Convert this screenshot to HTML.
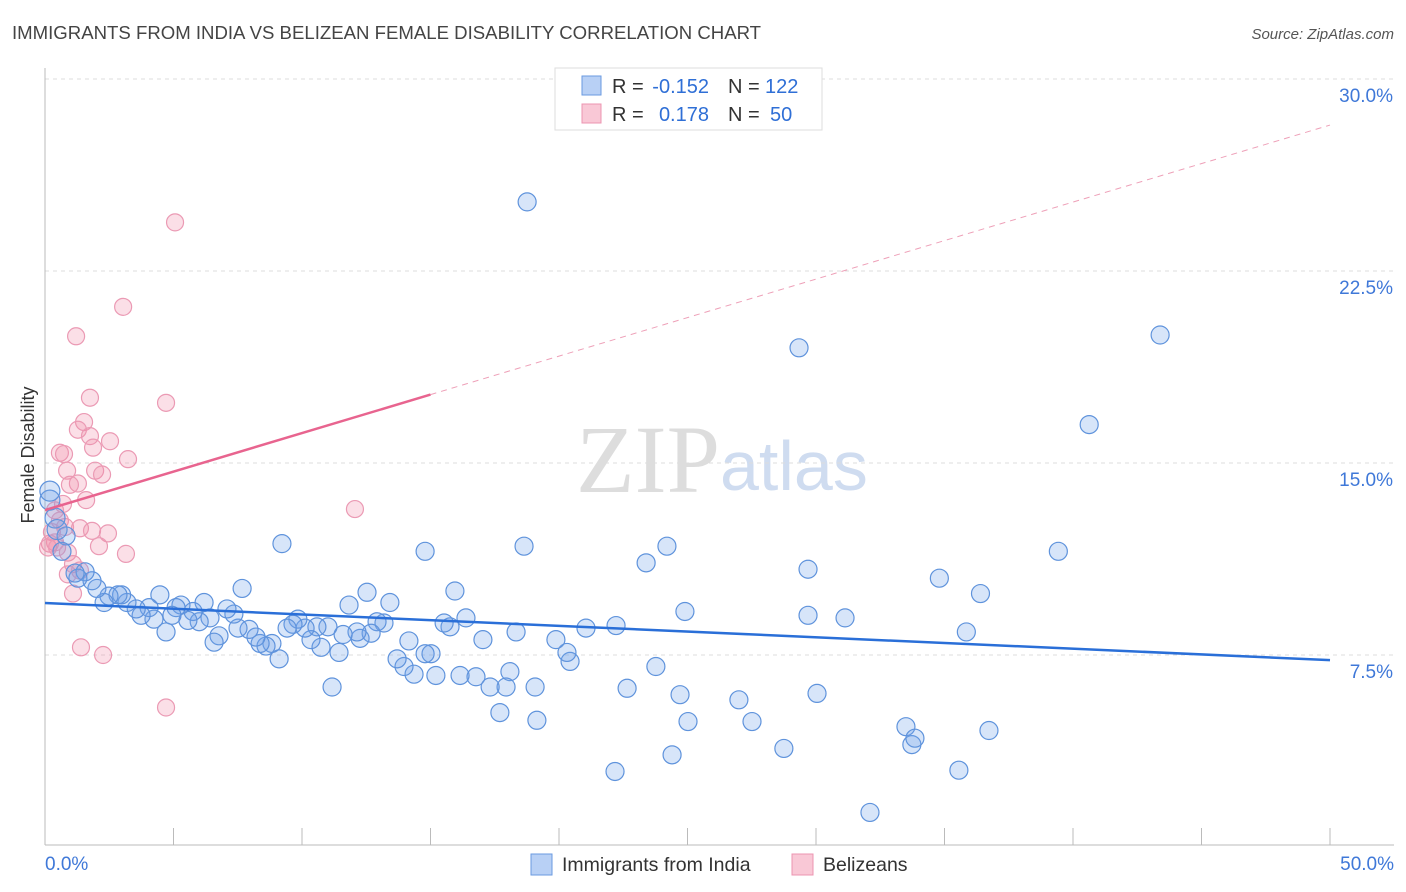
<!DOCTYPE html>
<html><head><meta charset="utf-8"><style>
body{margin:0;background:#fff;font-family:"Liberation Sans",sans-serif;}
svg{display:block}
</style></head><body>
<svg id="chart" width="1406" height="892">
<text x="12" y="39" font-size="18.6" fill="#444">IMMIGRANTS FROM INDIA VS BELIZEAN FEMALE DISABILITY CORRELATION CHART</text>
<text x="1394" y="39" font-size="15" fill="#555" font-style="italic" text-anchor="end">Source: ZipAtlas.com</text>
<text x="720" y="492" font-size="96" fill="#ddd" text-anchor="end" font-family="Liberation Serif,serif">ZIP</text>
<text x="720" y="490" font-size="70" fill="#cfdcf0">atlas</text>
<g id="grid"></g>
<g id="axes"></g>
<g id="marks"></g>
<text transform="translate(34,455) rotate(-90)" font-size="18" fill="#333" text-anchor="middle">Female Disability</text>
<g>
<rect x="555" y="68" width="267" height="62" fill="#fff" stroke="#ddd"/>
<rect x="582" y="76" width="19" height="19" fill="#b8d0f5" stroke="#6a9ae0"/>
<rect x="582" y="104" width="19" height="19" fill="#f9c8d6" stroke="#ec94b0"/>
<g font-size="20" fill="#333">
<text x="612" y="93">R =</text><text x="709" y="93" text-anchor="end" fill="#2f6fd6">-0.152</text>
<text x="728" y="93">N =</text><text x="765" y="93" fill="#2f6fd6">122</text>
<text x="612" y="121">R =</text><text x="709" y="121" text-anchor="end" fill="#2f6fd6">0.178</text>
<text x="728" y="121">N =</text><text x="770" y="121" fill="#2f6fd6">50</text>
</g>
</g>
<g>
<rect x="531" y="854" width="21" height="21" fill="#b8d0f5" stroke="#6a9ae0"/>
<text x="562" y="871" font-size="19.5" fill="#333">Immigrants from India</text>
<rect x="792" y="854" width="21" height="21" fill="#f9c8d6" stroke="#ec94b0"/>
<text x="823" y="871" font-size="19.5" fill="#333">Belizeans</text>
</g>
</svg>
<script>
const yTicks=[7.5,15,22.5,30];
const xTickLabels=["0.0%","50.0%"];
const indiaX=[18.76,29.34,43.39,40.63,39.43,34.8,36.4,35.85,29.69,29.69,31.13,30.04,33.5,33.73,33.85,36.73,35.56,32.1,28.75,27.51,27.0,25.02,24.71,24.4,22.18,22.65,23.77,24.9,24.2,23.39,22.22,21.05,20.43,20.31,19.88,19.07,19.14,18.64,18.33,18.09,17.94,17.7,17.32,17.04,16.77,16.38,16.15,15.95,15.76,15.53,15.21,15.02,14.79,14.79,14.36,14.16,13.97,13.7,13.42,13.19,12.92,12.69,12.53,12.26,12.14,11.83,11.6,11.44,11.17,11.01,10.74,10.58,10.35,10.12,9.84,9.65,9.42,9.22,9.11,8.83,8.6,8.37,8.21,7.94,7.51,7.35,7.67,7.08,6.77,6.58,6.42,6.19,6.0,5.76,5.56,5.29,5.1,4.94,4.71,4.47,4.24,4.05,3.74,3.55,3.19,2.98,2.84,2.49,2.3,2.02,1.83,1.56,1.28,1.17,0.82,0.66,0.39,0.19,0.47,0.19];
const indiaY=[25.2,19.5,20.0,16.5,11.55,10.5,9.9,8.4,10.85,9.05,8.95,6.0,4.7,4.0,4.25,4.55,3.0,1.35,3.85,4.9,5.75,4.9,5.95,3.6,2.95,6.2,7.05,9.2,11.75,11.1,8.65,8.55,7.25,7.6,8.1,6.25,4.95,11.75,8.4,6.85,6.25,5.25,6.25,8.1,6.65,8.95,6.7,10.0,8.6,8.75,6.7,7.55,7.55,11.55,6.75,8.05,7.05,7.35,9.55,8.75,8.8,8.35,9.95,8.15,8.4,9.45,8.3,7.6,6.25,8.6,7.8,8.6,8.1,8.55,8.9,8.7,8.55,11.85,7.35,7.95,7.85,7.95,8.2,8.5,8.55,9.1,10.1,9.3,8.25,8.0,8.95,9.55,8.8,9.2,8.85,9.45,9.35,9.05,8.4,9.85,8.9,9.35,9.05,9.3,9.55,9.85,9.85,9.8,9.55,10.1,10.4,10.75,10.5,10.7,12.15,11.55,12.85,13.55,12.4,13.9];
const indiaR=[9,9,9,9,9,9,9,9,9,9,9,9,9,9,9,9,9,9,9,9,9,9,9,9,9,9,9,9,9,9,9,9,9,9,9,9,9,9,9,9,9,9,9,9,9,9,9,9,9,9,9,9,9,9,9,9,9,9,9,9,9,9,9,9,9,9,9,9,9,9,9,9,9,9,9,9,9,9,9,9,9,9,9,9,9,9,9,9,9,9,9,9,9,9,9,9,9,9,9,9,9,9,9,9,9,9,9,9,9,9,9,9,9,9,9,9,10,10,10,10,13,22];
const belX=[5.06,3.04,1.21,1.75,4.71,1.52,1.28,1.75,2.53,0.58,0.74,1.87,3.23,0.86,1.95,2.22,1.28,0.97,1.6,0.70,0.39,12.06,0.58,0.78,1.36,1.83,2.45,0.27,0.39,0.19,0.12,0.47,0.89,2.1,3.15,1.09,0.89,1.36,1.09,1.4,2.26,4.71];
const belY=[24.4,21.1,19.95,17.55,17.35,16.6,16.3,16.05,15.85,15.4,15.35,15.6,15.15,14.7,14.7,14.55,14.2,14.15,13.55,13.4,13.15,13.2,12.75,12.5,12.45,12.35,12.25,12.3,11.9,11.85,11.7,11.7,11.5,11.75,11.45,11.05,10.65,10.8,9.9,7.8,7.5,5.45];
const indiaFit=[9.53,7.3];
const belFit=[13.16,28.2];
const belSolidEnd=15;
const X0=45,X1=1330;
const xs=v=>X0+(v/50)*(X1-X0);
const ys=v=>655-(v-7.5)*25.6;
const NS="http://www.w3.org/2000/svg";
function mk(parent,tag,attrs){const e=document.createElementNS(NS,tag);for(const k in attrs)e.setAttribute(k,attrs[k]);parent.appendChild(e);return e;}
const grid=document.getElementById('grid'),axes=document.getElementById('axes'),marks=document.getElementById('marks');
yTicks.forEach(t=>{
 const l=mk(grid,'line',{x1:45,x2:1394,y1:ys(t),y2:ys(t),stroke:'#ddd','stroke-dasharray':'4,4'});
 
 
 const tx=mk(axes,'text',{x:1393,y:ys(t)+23,'font-size':19,fill:'#3f78d8','text-anchor':'end'});
 tx.textContent=t.toFixed(1)+'%';
 
 
});
const ax=mk(axes,'line',{x1:45,x2:45,y1:68,y2:845,stroke:'#bbb'});


const bx=mk(axes,'line',{x1:45,x2:1394,y1:845,y2:845,stroke:'#bbb'});


for(let i=0;i<=10;i++){const xv=i*5;const t=mk(axes,'line',{x1:xs(xv),x2:xs(xv),y1:828,y2:845,stroke:'#bbb'});
 
 }
[[0,'start',45],[50,'end',1394]].forEach((d,i)=>{const t=mk(axes,'text',{x:d[2],y:870,'font-size':19,fill:'#3f78d8','text-anchor':d[1]});t.textContent=xTickLabels[i];
 
 });
belX.forEach((x,i)=>{const c=mk(marks,'circle',{cx:xs(x),cy:ys(belY[i]),r:8.5,fill:'rgba(240,140,170,0.28)',stroke:'#eb9ab4','stroke-width':1.2});
 
 });
indiaX.forEach((x,i)=>{const c=mk(marks,'circle',{cx:xs(x),cy:ys(indiaY[i]),r:indiaR[i],fill:'rgba(110,160,235,0.28)',stroke:'#5f93dc','stroke-width':1.2});
 
 });
const bl=mk(marks,'line',{x1:xs(0),y1:ys(indiaFit[0]),x2:xs(50),y2:ys(indiaFit[1]),stroke:'#2a6fd8','stroke-width':2.5});


const bf=v=>belFit[0]+(belFit[1]-belFit[0])*v/50;
const pl=mk(marks,'line',{x1:xs(0),y1:ys(bf(0)),x2:xs(belSolidEnd),y2:ys(bf(belSolidEnd)),stroke:'#e8648f','stroke-width':2.5});


const pd=mk(marks,'line',{x1:xs(belSolidEnd),y1:ys(bf(belSolidEnd)),x2:xs(50),y2:ys(bf(50)),stroke:'#eea0b8','stroke-width':1,'stroke-dasharray':'6,5'});


</script>
</body></html>
